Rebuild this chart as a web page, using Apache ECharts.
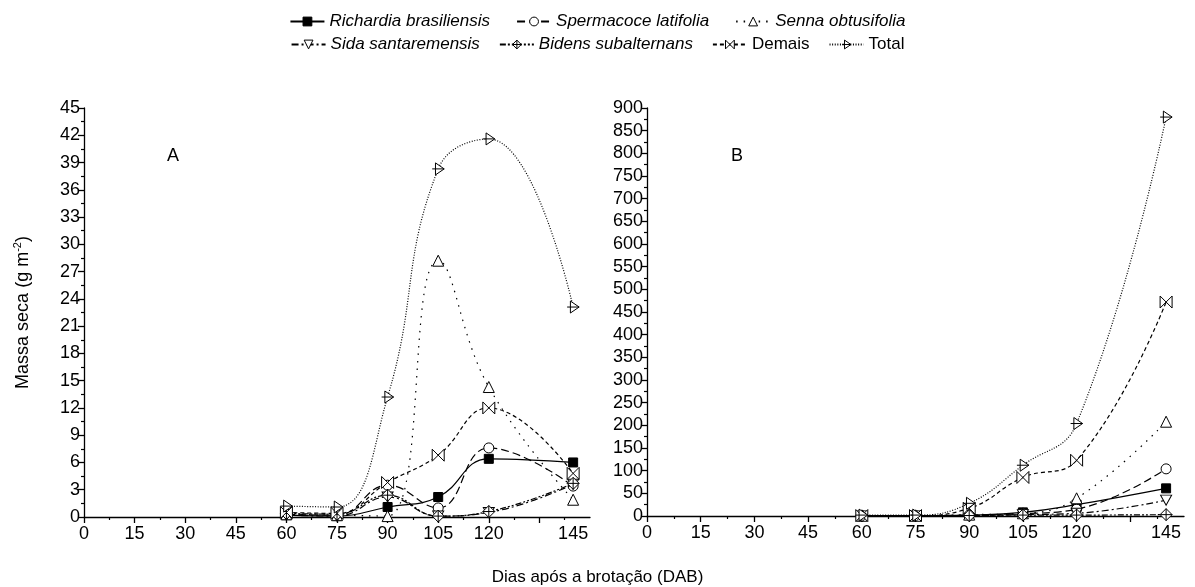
<!DOCTYPE html>
<html>
<head>
<meta charset="utf-8">
<script src="https://cdn.jsdelivr.net/npm/echarts@6.0.0/dist/echarts.min.js"></script>
<style>
  html, body { margin: 0; padding: 0; background: #fff; }
  #main { width: 1195px; height: 587px; }
</style>
</head>
<body>
<div id="main"></div>
<script>
// dias apos a brotacao
var days = [60, 75, 90, 105, 120, 145];
var xLabels = [0, 15, 30, 45, 60, 75, 90, 105, 120, 145];
var xTicks = [0, 15, 30, 45, 60, 75, 90, 105, 120, 135];

// painel A (g m-2)
var richA = [0.2, 0.1, 1.1, 2.2, 6.4, 6.0];
var sperA = [0.3, 0.2, 3.5, 1.0, 7.6, 3.4];
var sennaA = [0.3, 0.2, 0.1, 28.2, 14.3, 1.9];
var sidaA = [0.2, 0.1, 2.2, 0.1, 0.5, 3.6];
var bidA = [0.4, 0.3, 2.4, 0.1, 0.6, 3.7];
var demA = [0.5, 0.4, 3.8, 6.8, 12.0, 4.8];
var totA = [1.2, 1.1, 13.2, 38.3, 41.6, 23.1];

// painel B (g m-2)
var richB = [0.5, 0.5, 2, 8, 25, 61];
var sperB = [0.5, 0.5, 2, 5, 15, 104];
var sennaB = [0.5, 0.5, 3, 6, 39, 208];
var sidaB = [0.3, 0.3, 1, 3, 6, 35];
var bidB = [0.3, 0.3, 1, 2, 2, 3];
var demB = [1, 1, 17, 85, 123, 472];
var totB = [2, 2, 28, 112, 204, 880];

var FONT = 'Liberation Sans, Arial, sans-serif';

// estilos de cada especie (linha + marcador)
var styles = [
  { name: 'Richardia brasiliensis', dash: 'solid', symbol: 'rect', size: 9, fill: '#000' },
  { name: 'Spermacoce latifolia', dash: [8, 4], symbol: 'circle', size: 10, fill: '#fff' },
  { name: 'Senna obtusifolia', dash: [1.5, 6], symbol: 'triangle', size: 11, fill: '#fff' },
  { name: 'Sida santaremensis', dash: [7, 3, 2, 3], symbol: 'path://M0,0L10,0L5,9Z', size: [11, 10], fill: '#fff' },
  { name: 'Bidens subalternans', dash: [6, 2, 2, 2, 2, 2], symbol: 'path://M5,0L10,5L5,10L0,5Z M5,0L5,10 M0,5L10,5', size: 12, fill: '#fff' },
  { name: 'Demais', dash: [4, 3], symbol: 'path://M0,0L10,10L10,0L0,10Z', size: 12, fill: '#fff' },
  { name: 'Total', dash: [1, 1.6], symbol: 'path://M3,0L11,5L3,10Z M0,5L11,5', size: 12, fill: '#fff' }
];
var dataA = [richA, sperA, sennaA, sidaA, bidA, demA, totA];
var dataB = [richB, sperB, sennaB, sidaB, bidB, demB, totB];

function pairs(vals) {
  return days.map(function (d, i) { return [d, vals[i]]; });
}

var series = [];
[dataA, dataB].forEach(function (set, panel) {
  set.forEach(function (vals, k) {
    var st = styles[k];
    series.push({
      name: st.name,
      type: 'line',
      xAxisIndex: panel,
      yAxisIndex: panel,
      data: pairs(vals),
      smooth: 0.45,
      symbol: st.symbol,
      symbolSize: st.size,
      showSymbol: true,
      lineStyle: { color: '#000', width: 1.2, type: st.dash },
      itemStyle: { color: st.fill, borderColor: '#000', borderWidth: 1 },
      emphasis: { disabled: true },
      z: 2 + k
    });
  });
});

function xAxis(grid) {
  return {
    type: 'value', gridIndex: grid, min: 0, max: 150, interval: 15,
    axisLine: { lineStyle: { color: '#000', width: 1.3 } },
    axisTick: { customValues: xTicks, length: 6, lineStyle: { color: '#000', width: 1.3 } },
    minorTick: { show: true, splitNumber: 2, length: 3, lineStyle: { color: '#000', width: 1.2 } },
    axisLabel: { customValues: xLabels, color: '#000', fontSize: 18, fontFamily: FONT, margin: 8 },
    splitLine: { show: false }
  };
}

function yAxis(grid, max, step) {
  return {
    type: 'value', gridIndex: grid, min: 0, max: max, interval: step,
    axisLine: { show: true, lineStyle: { color: '#000', width: 1.3 } },
    axisTick: { show: true, length: 6, lineStyle: { color: '#000', width: 1.3 } },
    minorTick: { show: true, splitNumber: 2, length: 3, lineStyle: { color: '#000', width: 1.2 } },
    axisLabel: { color: '#000', fontSize: 18, fontFamily: FONT, margin: 4 },
    splitLine: { show: false }
  };
}

var yA = yAxis(0, 45, 3);
yA.name = 'Massa seca (g m{sup|-2})';
yA.nameLocation = 'middle';
yA.nameGap = 50;
yA.nameTextStyle = {
  color: '#000', fontSize: 18, fontFamily: FONT,
  rich: { sup: { fontSize: 11, fontFamily: FONT, color: '#000', verticalAlign: 'top', lineHeight: 22 } }
};

function legendFmt(name) {
  if (name === 'Demais' || name === 'Total') return '{n|' + name + '}';
  return '{i|' + name + '}';
}
var legendText = {
  color: '#000', fontSize: 17, fontFamily: FONT,
  rich: {
    i: { fontStyle: 'italic', fontSize: 17, fontFamily: FONT, color: '#000' },
    n: { fontSize: 17, fontFamily: FONT, color: '#000' }
  }
};
function legendItems(list) {
  return list.map(function (s) {
    return {
      name: s.name,
      itemStyle: { color: s.fill, borderColor: '#000', borderWidth: 1 }
    };
  });
}

var option = {
  backgroundColor: '#fff',
  animation: false,
  textStyle: { fontFamily: FONT },
  legend: [
    {
      data: legendItems(styles.slice(0, 3)),
      top: 8, left: 'center', itemWidth: 34, itemHeight: 11, itemGap: 26,
      formatter: legendFmt, textStyle: legendText, selectedMode: false
    },
    {
      data: legendItems(styles.slice(3)),
      top: 31, left: 'center', itemWidth: 34, itemHeight: 11, itemGap: 19,
      formatter: legendFmt, textStyle: legendText, selectedMode: false
    }
  ],
  grid: [
    { left: 84, top: 108, width: 506, height: 409 },
    { left: 647, top: 108, width: 537, height: 408 }
  ],
  xAxis: [xAxis(0), xAxis(1)],
  yAxis: [yA, yAxis(1, 900, 50)],
  graphic: [
    { type: 'text', left: 167, top: 147, style: { text: 'A', fontSize: 18, fontFamily: FONT, fill: '#000' } },
    { type: 'text', left: 731, top: 147, style: { text: 'B', fontSize: 18, fontFamily: FONT, fill: '#000' } },
    { type: 'text', left: 'center', top: 569, style: { text: 'Dias após a brotação (DAB)', fontSize: 17, fontFamily: FONT, fill: '#000' } }
  ],
  series: series
};

var chart = echarts.init(document.getElementById('main'));
chart.setOption(option);
</script>
</body>
</html>
